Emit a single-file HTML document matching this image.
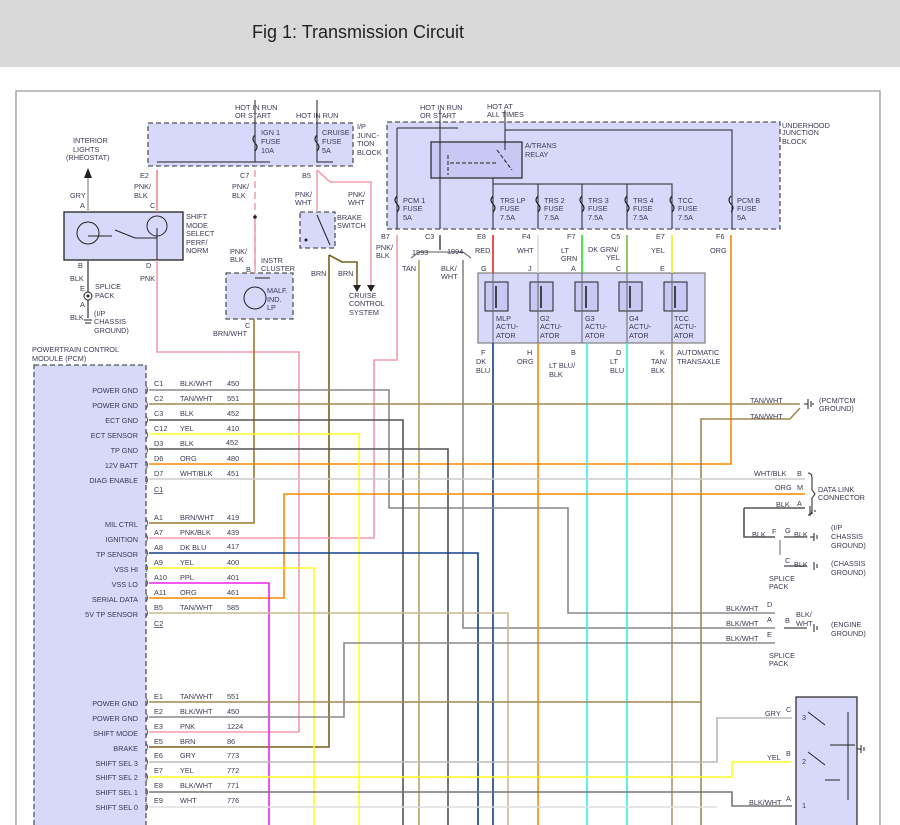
<!DOCTYPE html>
<html><head><meta charset="utf-8"><style>
html,body{margin:0;padding:0;background:#fff;width:900px;height:825px;overflow:hidden}
svg text{font-family:"Liberation Sans",sans-serif;font-size:7.3px;fill:#3a3a55}
</style></head><body>
<svg width="900" height="825" viewBox="0 0 900 825" xmlns="http://www.w3.org/2000/svg">
<rect x="0" y="0" width="900" height="67" fill="#d9d9d9"/>
<text x="252" y="38" style="font-size:18px;fill:#222">Fig 1: Transmission Circuit</text>
<path d="M16 825V91H880V825" fill="none" stroke="#999" stroke-width="1.3"/>

<g fill="#d8d8fa" stroke="#555" stroke-width="1.3">
<rect x="148" y="123" width="205" height="43" stroke-dasharray="5,3"/>
<rect x="387" y="122" width="393" height="107" stroke-dasharray="5,3"/>
<rect x="64" y="212" width="119" height="48" stroke="#222"/>
<rect x="226" y="273" width="67" height="46" stroke-dasharray="5,3"/>
<rect x="300" y="212" width="35" height="36" stroke-dasharray="5,3"/>
<rect x="34" y="365" width="112" height="470" stroke-dasharray="5,3"/>
<rect x="478" y="273" width="227" height="70" stroke="#888"/>
<rect x="796" y="697" width="61" height="140" stroke="#333"/>
<rect x="431" y="142" width="91" height="36" fill="#c8c8f4" stroke="#333"/>
</g>

<g fill="none" stroke-width="1.6">
<path d="M88 170V212" stroke="#aaa"/>
<path d="M157 170V212" stroke="#e88"/>
<path d="M255 170V265" stroke="#f4a0b0" stroke-dasharray="7,4"/>
<path d="M255 220V273" stroke="#f4a0b0"/>
<path d="M317 170V212" stroke="#f4a0b0"/>
<path d="M317 170L330 182H371V285" stroke="#f4a0b0"/>
<path d="M329 255L342 262H357V285" stroke="#7a6020"/>
<path d="M329 255V747H149" stroke="#7a6020"/>
<path d="M88 260V318" stroke="#666"/>
<path d="M157 260V352H299V732H149" stroke="#f49aae"/>
<path d="M254 319V523H149" stroke="#9a7a30"/>
<path d="M397 235V360H374V538H149" stroke="#f49aae"/>
<path d="M440 235V250" stroke="#555"/>
<path d="M411 258L419 252H463L471 258" stroke="#555" stroke-width="1"/>
<path d="M419 260V825" stroke="#b8a060"/>
<path d="M463 260V628H775" stroke="#888"/>
<path d="M493 235V273" stroke="#e22"/>
<path d="M538 235V273" stroke="#ddd"/>
<path d="M582 235V273" stroke="#2d2"/>
<path d="M627 235V273" stroke="#7b4"/>
<path d="M672 235V273" stroke="#ee2"/>
<path d="M731 235V464H149" stroke="#f80"/>
<path d="M493 343V825" stroke="#12408a"/>
<path d="M538 343V825" stroke="#f80"/>
<path d="M587 343V825" stroke="#3ee"/>
<path d="M627 343V825" stroke="#3ee"/>
<path d="M672 343V825" stroke="#a89870"/>
<path d="M149 390H389V508H568V613H775" stroke="#888"/>
<path d="M149 404H800" stroke="#a08850"/>
<path d="M701 825V419H790L800 408" stroke="#a08850"/>
<path d="M149 420H403V825" stroke="#555"/>
<path d="M149 434H359V825" stroke="#ff2"/>
<path d="M149 449H448V825" stroke="#555"/>
<path d="M149 479H805" stroke="#ccc"/>
<path d="M149 598H284V494H805" stroke="#f80"/>
<path d="M744 508H805" stroke="#555"/>
<path d="M744 508V537H775" stroke="#555"/>
<path d="M149 553H478V825" stroke="#12408a"/>
<path d="M149 568H314V825" stroke="#ff2"/>
<path d="M149 583H269V825" stroke="#e2e"/>
<path d="M149 613H508V825" stroke="#c8b890"/>
<path d="M149 702H701" stroke="#a08850"/>
<path d="M149 717H344V643H775" stroke="#888"/>
<path d="M149 762H717V718H792" stroke="#bbb"/>
<path d="M149 777H732V762H792" stroke="#ff2"/>
<path d="M149 792H732V806H792" stroke="#777"/>
<path d="M149 807H717" stroke="#ddd"/>
<path d="M784 537H807M784 566H807M784 628H807" stroke="#666"/>
<path d="M780 540V555" stroke="#666" stroke-width="1"/>
</g>

<g fill="none" stroke="#222" stroke-width="1">
<path d="M157 162H270M255 100V162M317 100V162H333"/>
<path d="M397 128H458M505 130H732V229M440 110V229M505 110V150M397 128V229"/>
<path d="M493 178V229M493 184H672V229M538 184V229M582 184V229M627 184V229"/>
<path d="M448 155V175M450 163H497M497 150L512 170" stroke-dasharray="4,2"/>
<path d="M88 236H112M157 228V260M115 230L135 238L157 238M317 215L330 245"/>
<path d="M255 278H270"/>
<path d="M808 712L825 725M808 752L825 765M830 745H855M848 712V800M825 780H840"/>
</g>
<circle cx="88" cy="233" r="11" fill="none" stroke="#222"/>
<circle cx="157" cy="226" r="10" fill="none" stroke="#222"/>
<circle cx="255" cy="298" r="11" fill="none" stroke="#222"/>
<circle cx="88" cy="296" r="4" fill="#fff" stroke="#222"/>
<g fill="#222"><circle cx="255" cy="217" r="1.8"/><circle cx="88" cy="296" r="1.5"/><circle cx="306" cy="240" r="1.5"/></g>
<path d="M84 178L88 168L92 178Z M353 285L357 292L361 285Z M367 285L371 292L375 285Z" fill="#222"/>
<g fill="none" stroke="#222" stroke-width="1.1">
<path d="M255 135q-4 4 0 8q4 4 0 8"/><path d="M317 135q-4 4 0 8q4 4 0 8"/>
<path d="M397 196q-4 4 0 8q4 4 0 8"/><path d="M493 196q-4 4 0 8q4 4 0 8"/><path d="M538 196q-4 4 0 8q4 4 0 8"/><path d="M582 196q-4 4 0 8q4 4 0 8"/><path d="M627 196q-4 4 0 8q4 4 0 8"/><path d="M672 196q-4 4 0 8q4 4 0 8"/><path d="M731 196q-4 4 0 8q4 4 0 8"/>
</g>
<g fill="#c8c8f4" stroke="#222" stroke-width="1">
<rect x="485" y="282" width="23" height="29"/><rect x="530" y="282" width="23" height="29"/><rect x="575" y="282" width="23" height="29"/><rect x="619" y="282" width="23" height="29"/><rect x="664" y="282" width="23" height="29"/>
</g>
<g stroke="#222" stroke-width="1.6"><path d="M496 286V308M541 286V308M586 286V308M630 286V308M675 286V308"/></g>
<g stroke="#666" stroke-width="1"><path d="M493 273V343M538 273V343M582 273V343M627 273V343M672 273V343"/></g>
<g stroke="#222" stroke-width="1"><path d="M804 404H808M808 399V409M811 401V407M813 403V405M812 508V514M815 510V512M810 506V516M810 537H814M814 533V541M817 535V539M814 562V570M817 564V568M814 624V632M817 626V630M857 749H861M861 745V753M864 747V751M84 320H92M85 323H91"/><path d="M808 473Q812 473 812 478V490L815 494L812 498V510Q812 515 808 515" fill="none"/></g>
<g stroke="#555" stroke-width="1" fill="none">
<path d="M146 386q3 4 0 8M146 401q3 4 0 8M146 416q3 4 0 8M146 431q3 4 0 8M146 446q3 4 0 8M146 461q3 4 0 8M146 476q3 4 0 8M146 519q3 4 0 8M146 534q3 4 0 8M146 549q3 4 0 8M146 564q3 4 0 8M146 579q3 4 0 8M146 594q3 4 0 8M146 609q3 4 0 8M146 698q3 4 0 8M146 713q3 4 0 8M146 728q3 4 0 8M146 743q3 4 0 8M146 758q3 4 0 8M146 773q3 4 0 8M146 788q3 4 0 8M146 803q3 4 0 8"/>
</g>

<g>
<text x="235" y="110">HOT IN RUN</text><text x="235" y="118">OR START</text><text x="296" y="118">HOT IN RUN</text>
<text x="261" y="135">IGN 1</text><text x="261" y="144">FUSE</text><text x="261" y="153">10A</text>
<text x="322" y="135">CRUISE</text><text x="322" y="144">FUSE</text><text x="322" y="153">5A</text>
<text x="357" y="129">I/P</text><text x="357" y="138">JUNC-</text><text x="357" y="146">TION</text><text x="357" y="155">BLOCK</text>
<text x="73" y="143">INTERIOR</text><text x="73" y="152">LIGHTS</text><text x="66" y="160">(RHEOSTAT)</text>
<text x="140" y="178">E2</text><text x="240" y="178">C7</text><text x="302" y="178">B5</text>
<text x="134" y="189">PNK/</text><text x="134" y="198">BLK</text><text x="232" y="189">PNK/</text><text x="232" y="198">BLK</text>
<text x="295" y="197">PNK/</text><text x="295" y="205">WHT</text><text x="348" y="197">PNK/</text><text x="348" y="205">WHT</text>
<text x="70" y="198">GRY</text><text x="80" y="208">A</text><text x="150" y="208">C</text>
<text x="186" y="219">SHIFT</text><text x="186" y="228">MODE</text><text x="186" y="236">SELECT</text><text x="186" y="245">PERF/</text><text x="186" y="253">NORM</text>
<text x="337" y="220">BRAKE</text><text x="337" y="228">SWITCH</text>
<text x="78" y="268">B</text><text x="70" y="281">BLK</text><text x="146" y="268">D</text><text x="140" y="281">PNK</text>
<text x="80" y="291">E</text><text x="95" y="289">SPLICE</text><text x="95" y="298">PACK</text><text x="80" y="307">A</text>
<text x="70" y="320">BLK</text><text x="94" y="316">(I/P</text><text x="94" y="324">CHASSIS</text><text x="94" y="333">GROUND)</text>
<text x="230" y="254">PNK/</text><text x="230" y="262">BLK</text><text x="246" y="272">B</text><text x="261" y="263">INSTR</text><text x="261" y="271">CLUSTER</text>
<text x="267" y="293">MALF.</text><text x="267" y="302">IND.</text><text x="267" y="310">LP</text>
<text x="245" y="328">C</text><text x="213" y="336">BRN/WHT</text>
<text x="311" y="276">BRN</text><text x="338" y="276">BRN</text>
<text x="349" y="298">CRUISE</text><text x="349" y="306">CONTROL</text><text x="349" y="315">SYSTEM</text>
<text x="420" y="110">HOT IN RUN</text><text x="420" y="118">OR START</text><text x="487" y="109">HOT AT</text><text x="487" y="117">ALL TIMES</text>
<text x="525" y="148">A/TRANS</text><text x="525" y="157">RELAY</text>
<text x="782" y="128">UNDERHOOD</text><text x="782" y="135">JUNCTION</text><text x="782" y="144">BLOCK</text>
<text x="403" y="203">PCM 1</text><text x="403" y="211">FUSE</text><text x="403" y="220">5A</text>
<text x="500" y="203">TRS LP</text><text x="500" y="211">FUSE</text><text x="500" y="220">7.5A</text>
<text x="544" y="203">TRS 2</text><text x="544" y="211">FUSE</text><text x="544" y="220">7.5A</text>
<text x="588" y="203">TRS 3</text><text x="588" y="211">FUSE</text><text x="588" y="220">7.5A</text>
<text x="633" y="203">TRS 4</text><text x="633" y="211">FUSE</text><text x="633" y="220">7.5A</text>
<text x="678" y="203">TCC</text><text x="678" y="211">FUSE</text><text x="678" y="220">7.5A</text>
<text x="737" y="203">PCM B</text><text x="737" y="211">FUSE</text><text x="737" y="220">5A</text>
<text x="381" y="239">B7</text><text x="425" y="239">C3</text><text x="477" y="239">E8</text><text x="522" y="239">F4</text><text x="567" y="239">F7</text><text x="611" y="239">C5</text><text x="656" y="239">E7</text><text x="716" y="239">F6</text>
<text x="376" y="250">PNK/</text><text x="376" y="258">BLK</text><text x="412" y="255">1993</text><text x="447" y="254">1994</text>
<text x="475" y="253">RED</text><text x="517" y="253">WHT</text><text x="561" y="253">LT</text><text x="561" y="261">GRN</text><text x="588" y="252">DK GRN/</text><text x="606" y="260">YEL</text><text x="651" y="253">YEL</text><text x="710" y="253">ORG</text>
<text x="402" y="271">TAN</text><text x="441" y="271">BLK/</text><text x="441" y="279">WHT</text>
<text x="481" y="271">G</text><text x="528" y="271">J</text><text x="571" y="271">A</text><text x="616" y="271">C</text><text x="660" y="271">E</text>
<text x="496" y="321">MLP</text><text x="496" y="329">ACTU-</text><text x="496" y="338">ATOR</text>
<text x="540" y="321">G2</text><text x="540" y="329">ACTU-</text><text x="540" y="338">ATOR</text>
<text x="585" y="321">G3</text><text x="585" y="329">ACTU-</text><text x="585" y="338">ATOR</text>
<text x="629" y="321">G4</text><text x="629" y="329">ACTU-</text><text x="629" y="338">ATOR</text>
<text x="674" y="321">TCC</text><text x="674" y="329">ACTU-</text><text x="674" y="338">ATOR</text>
<text x="481" y="355">F</text><text x="476" y="364">DK</text><text x="476" y="373">BLU</text><text x="527" y="355">H</text><text x="517" y="364">ORG</text>
<text x="571" y="355">B</text><text x="549" y="368">LT BLU/</text><text x="549" y="377">BLK</text><text x="616" y="355">D</text><text x="610" y="364">LT</text><text x="610" y="373">BLU</text>
<text x="660" y="355">K</text><text x="651" y="364">TAN/</text><text x="651" y="373">BLK</text><text x="677" y="355">AUTOMATIC</text><text x="677" y="364">TRANSAXLE</text>
<text x="32" y="352">POWERTRAIN CONTROL</text><text x="32" y="361">MODULE (PCM)</text>
<text x="750" y="403">TAN/WHT</text><text x="750" y="419">TAN/WHT</text><text x="819" y="403">(PCM/TCM</text><text x="819" y="411">GROUND)</text>
<text x="754" y="476">WHT/BLK</text><text x="797" y="476">B</text><text x="775" y="490">ORG</text><text x="797" y="490">M</text><text x="776" y="507">BLK</text><text x="797" y="506">A</text>
<text x="818" y="492">DATA LINK</text><text x="818" y="500">CONNECTOR</text>
<text x="752" y="537">BLK</text><text x="772" y="534">F</text><text x="785" y="533">G</text><text x="794" y="537">BLK</text>
<text x="831" y="530">(I/P</text><text x="831" y="539">CHASSIS</text><text x="831" y="548">GROUND)</text>
<text x="785" y="563">C</text><text x="794" y="567">BLK</text><text x="831" y="566">(CHASSIS</text><text x="831" y="575">GROUND)</text>
<text x="769" y="581">SPLICE</text><text x="769" y="589">PACK</text>
<text x="726" y="611">BLK/WHT</text><text x="767" y="607">D</text><text x="726" y="626">BLK/WHT</text><text x="767" y="622">A</text><text x="785" y="623">B</text><text x="796" y="617">BLK/</text><text x="796" y="626">WHT</text><text x="726" y="641">BLK/WHT</text><text x="767" y="637">E</text>
<text x="831" y="627">(ENGINE</text><text x="831" y="636">GROUND)</text><text x="769" y="658">SPLICE</text><text x="769" y="666">PACK</text>
<text x="765" y="716">GRY</text><text x="786" y="712">C</text><text x="802" y="720">3</text>
<text x="767" y="760">YEL</text><text x="786" y="756">B</text><text x="802" y="764">2</text>
<text x="749" y="805">BLK/WHT</text><text x="786" y="801">A</text><text x="802" y="808">1</text>
</g>
<g text-anchor="end">
<text x="138" y="393">POWER GND</text><text x="138" y="408">POWER GND</text><text x="138" y="423">ECT GND</text><text x="138" y="438">ECT SENSOR</text><text x="138" y="453">TP GND</text><text x="138" y="468">12V BATT</text><text x="138" y="483">DIAG ENABLE</text>
<text x="138" y="527">MIL CTRL</text><text x="138" y="542">IGNITION</text><text x="138" y="557">TP SENSOR</text><text x="138" y="572">VSS HI</text><text x="138" y="587">VSS LO</text><text x="138" y="602">SERIAL DATA</text><text x="138" y="617">5V TP SENSOR</text>
<text x="138" y="706">POWER GND</text><text x="138" y="721">POWER GND</text><text x="138" y="736">SHIFT MODE</text><text x="138" y="751">BRAKE</text><text x="138" y="766">SHIFT SEL 3</text><text x="138" y="780">SHIFT SEL 2</text><text x="138" y="795">SHIFT SEL 1</text><text x="138" y="810">SHIFT SEL 0</text>
</g>
<g>
<text x="154" y="386">C1</text><text x="180" y="386">BLK/WHT</text><text x="227" y="386">450</text>
<text x="154" y="401">C2</text><text x="180" y="401">TAN/WHT</text><text x="227" y="401">551</text>
<text x="154" y="416">C3</text><text x="180" y="416">BLK</text><text x="227" y="416">452</text>
<text x="154" y="431">C12</text><text x="180" y="431">YEL</text><text x="227" y="431">410</text>
<text x="154" y="446">D3</text><text x="180" y="446">BLK</text><text x="226" y="445">452</text>
<text x="154" y="461">D6</text><text x="180" y="461">ORG</text><text x="227" y="461">480</text>
<text x="154" y="476">D7</text><text x="180" y="476">WHT/BLK</text><text x="227" y="476">451</text>
<text x="154" y="492" text-decoration="underline">C1</text>
<text x="154" y="520">A1</text><text x="180" y="520">BRN/WHT</text><text x="227" y="520">419</text>
<text x="154" y="535">A7</text><text x="180" y="535">PNK/BLK</text><text x="227" y="535">439</text>
<text x="154" y="550">A8</text><text x="180" y="550">DK BLU</text><text x="227" y="549">417</text>
<text x="154" y="565">A9</text><text x="180" y="565">YEL</text><text x="227" y="565">400</text>
<text x="154" y="580">A10</text><text x="180" y="580">PPL</text><text x="227" y="580">401</text>
<text x="154" y="595">A11</text><text x="180" y="595">ORG</text><text x="227" y="595">461</text>
<text x="154" y="610">B5</text><text x="180" y="610">TAN/WHT</text><text x="227" y="610">585</text>
<text x="154" y="626" text-decoration="underline">C2</text>
<text x="154" y="699">E1</text><text x="180" y="699">TAN/WHT</text><text x="227" y="699">551</text>
<text x="154" y="714">E2</text><text x="180" y="714">BLK/WHT</text><text x="227" y="714">450</text>
<text x="154" y="729">E3</text><text x="180" y="729">PNK</text><text x="227" y="729">1224</text>
<text x="154" y="744">E5</text><text x="180" y="744">BRN</text><text x="227" y="744">86</text>
<text x="154" y="758">E6</text><text x="180" y="758">GRY</text><text x="227" y="758">773</text>
<text x="154" y="773">E7</text><text x="180" y="773">YEL</text><text x="227" y="773">772</text>
<text x="154" y="788">E8</text><text x="180" y="788">BLK/WHT</text><text x="227" y="788">771</text>
<text x="154" y="803">E9</text><text x="180" y="803">WHT</text><text x="227" y="803">776</text>
</g>
</svg>
</body></html>
